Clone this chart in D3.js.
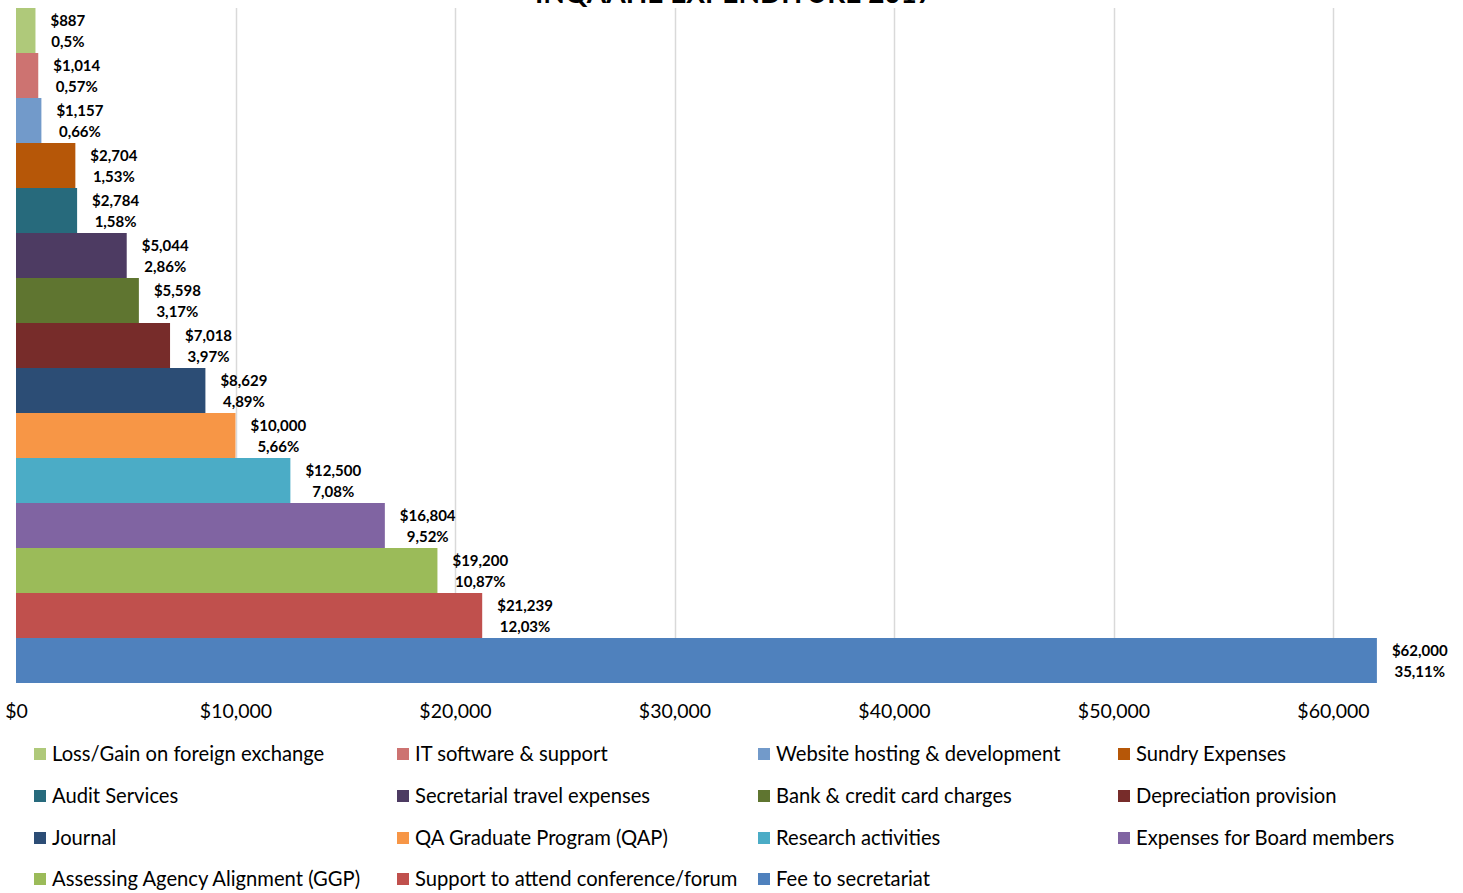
<!DOCTYPE html>
<html><head><meta charset="utf-8">
<script src="https://cdn.jsdelivr.net/npm/d3@7"></script>
<style>
html,body{margin:0;padding:0;background:#fff;overflow:hidden;}
text{font-family:Lato,"Open Sans",sans-serif;}
</style></head>
<body>
<svg id="chart" width="1463" height="893"></svg>
<script>
const categories = ["Loss/Gain on foreign exchange","IT software & support","Website hosting & development","Sundry Expenses","Audit Services","Secretarial travel expenses","Bank & credit card charges","Depreciation provision","Journal","QA Graduate Program (QAP)","Research activities","Expenses for Board members","Assessing Agency Alignment (GGP)","Support to attend conference/forum","Fee to secretariat"];
const values = [887,1014,1157,2704,2784,5044,5598,7018,8629,10000,12500,16804,19200,21239,62000];
const percents = ["0,5%","0,57%","0,66%","1,53%","1,58%","2,86%","3,17%","3,97%","4,89%","5,66%","7,08%","9,52%","10,87%","12,03%","35,11%"];
const colors = ["#AFC97A","#CD7371","#729ACA","#B65708","#276A7C","#4D3B62","#5F7530","#772C2A","#2C4D75","#F79646","#4BACC6","#8064A2","#9BBB59","#C0504D","#4F81BD"];
const xTicks = [0,10000,20000,30000,40000,50000,60000];
const title = "INQAAHE EXPENDITURE 2017";

const svg = d3.select("#chart");
const mLeft = 16, mTop = 8, mBottom = 683;
const x = d3.scaleLinear().domain([0,60000]).range([mLeft,1333]);
const y = d3.scaleBand().domain(categories).range([mTop,mBottom]).padding(0);

svg.append("text").attr("x",734).attr("y",3).attr("text-anchor","middle")
  .attr("font-weight","bold").attr("font-size",28).attr("fill","#000").text(title);

// gridlines
svg.append("g").selectAll("line").data(xTicks.slice(1)).join("line")
  .attr("x1",d=>Math.round(x(d))+0.5).attr("x2",d=>Math.round(x(d))+0.5)
  .attr("y1",mTop).attr("y2",mBottom).attr("stroke","#d9d9d9").attr("stroke-width",1.5);

// bars
svg.append("g").selectAll("rect").data(categories).join("rect")
  .attr("x",x(0)).attr("y",d=>y(d)).attr("height",y.bandwidth())
  .attr("width",(d,i)=>x(values[i])-x(0)).attr("fill",(d,i)=>colors[i]);

// labels
const lg = svg.append("g");
categories.forEach((c,i)=>{
  const g = lg.append("g");
  const t1 = g.append("text").attr("font-weight","bold").attr("font-size",15).attr("fill","#000")
    .attr("y",y(c)+y.bandwidth()/2-5).text("$"+d3.format(",")(values[i]));
  const t2 = g.append("text").attr("font-weight","bold").attr("font-size",15).attr("fill","#000")
    .attr("y",y(c)+y.bandwidth()/2+16).text(percents[i]);
  const w = Math.max(t1.node().getComputedTextLength(), t2.node().getComputedTextLength());
  const cx = x(values[i]) + 15 + w/2;
  t1.attr("x",cx).attr("text-anchor","middle");
  t2.attr("x",cx).attr("text-anchor","middle");
});

// x axis
const ax = svg.append("g").attr("transform",`translate(0,${mBottom})`)
  .call(d3.axisBottom(x).tickValues(xTicks).tickSize(0).tickPadding(21)
    .tickFormat(d=>"$"+d3.format(",")(d)));
ax.select(".domain").remove();
ax.selectAll("text").attr("font-size",19.5).attr("fill","#000").attr("font-family","Lato,'Open Sans',sans-serif");

// legend
const colX = [34,397,758,1118];
const rowY = [754,796,838,879];
const leg = svg.append("g");
categories.forEach((c,i)=>{
  const cx = colX[i%4], cy = rowY[Math.floor(i/4)];
  leg.append("rect").attr("x",cx).attr("y",cy-6).attr("width",12).attr("height",12).attr("fill",colors[i]);
  leg.append("text").attr("x",cx+18).attr("y",cy+7).attr("font-size",20.2).attr("fill","#000").text(c);
});
</script>
</body></html>
